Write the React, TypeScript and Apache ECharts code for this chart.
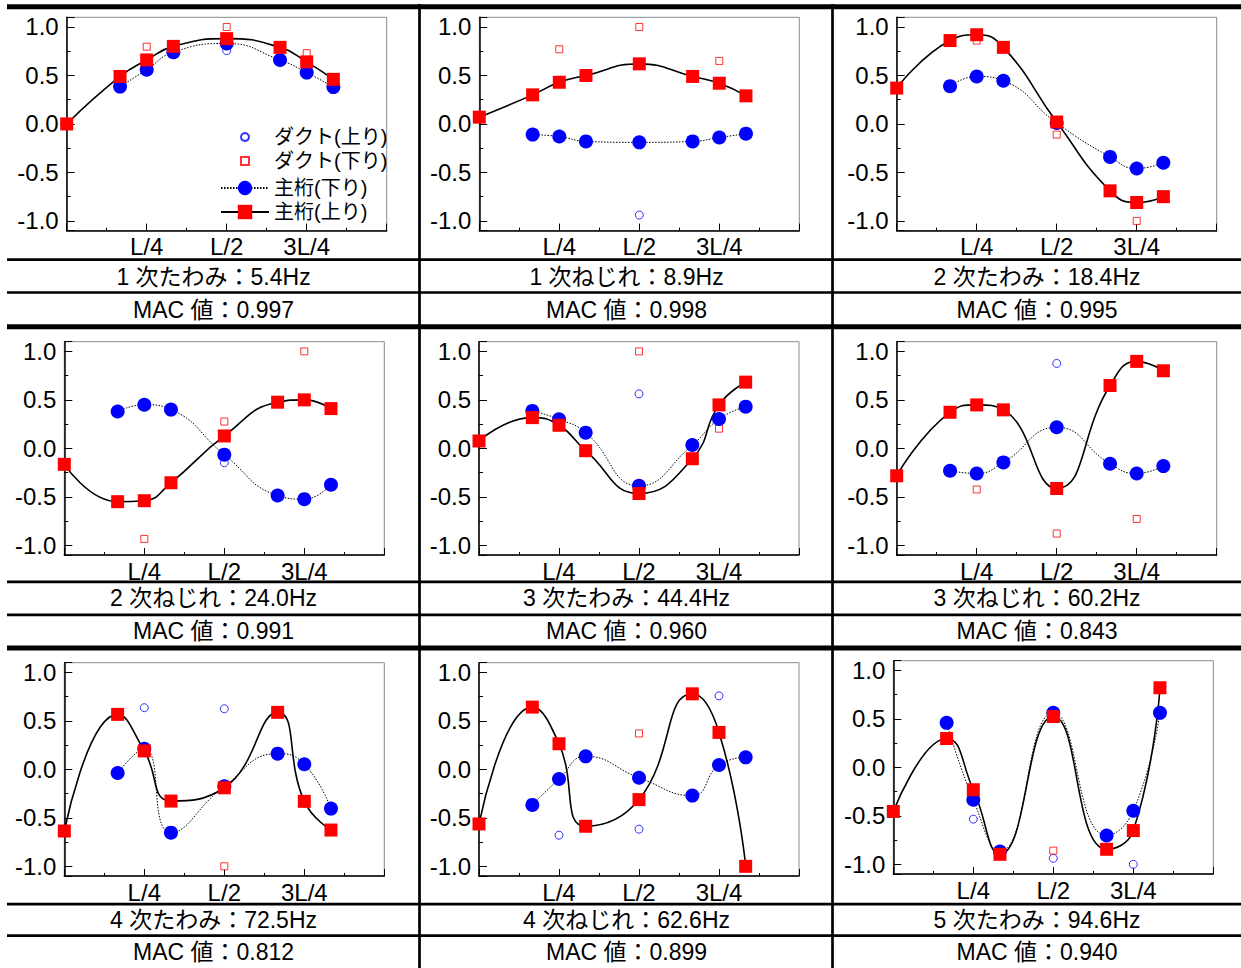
import React, { useEffect, useRef } from "react";
import * as echarts from "echarts";

// ---------- data ----------
// positions along the span, in units of L/24
const girderUpPos = [0, 4, 6, 8, 12, 16, 18, 20];
const girderDownPos = [4, 6, 8, 12, 16, 18, 20];
const ductPos = [6, 12, 18];
const xTickValues = [6, 12, 18];
const xTickLabels = ["L/4", "L/2", "3L/4"];

const modeNames = [
  "1 次たわみ", "1 次ねじれ", "2 次たわみ",
  "2 次ねじれ", "3 次たわみ", "3 次ねじれ",
  "4 次たわみ", "4 次ねじれ", "5 次たわみ",
];
const freqsHz = [5.4, 8.9, 18.4, 24.0, 44.4, 60.2, 72.5, 62.6, 94.6];
const macValues = [0.997, 0.998, 0.995, 0.991, 0.960, 0.843, 0.812, 0.899, 0.940];

// 主桁(上り) : red filled squares, solid line
const girderUp = [
  [0.0, 0.49, 0.66, 0.8, 0.88, 0.79, 0.64, 0.46],
  [0.07, 0.3, 0.43, 0.5, 0.62, 0.49, 0.42, 0.29],
  [0.37, 0.86, 0.92, 0.79, 0.02, -0.69, -0.81, -0.75],
  [-0.165, -0.55, -0.54, -0.355, 0.128, 0.476, 0.5, 0.41],
  [0.076, 0.317, 0.238, -0.024, -0.466, -0.107, 0.448, 0.683],
  [-0.283, 0.372, 0.448, 0.397, -0.414, 0.648, 0.897, 0.8],
  [-0.636, 0.567, 0.19, -0.327, -0.19, 0.588, -0.33, -0.626],
  [-0.563, 0.642, 0.264, -0.587, -0.312, 0.779, 0.381, -1.0],
  [-0.455, 0.297, -0.231, -0.897, 0.524, -0.845, -0.652, 0.821],
];
// 主桁(下り) : blue filled circles, dotted line
const girderDown = [
  [0.385, 0.56, 0.74, 0.83, 0.66, 0.53, 0.38],
  [-0.11, -0.13, -0.18, -0.19, -0.18, -0.14, -0.1],
  [0.39, 0.49, 0.445, 0.01, -0.34, -0.46, -0.4],
  [0.38, 0.45, 0.4, -0.065, -0.486, -0.524, -0.376],
  [0.386, 0.3, 0.162, -0.386, 0.034, 0.303, 0.43],
  [-0.231, -0.259, -0.145, 0.217, -0.159, -0.259, -0.183],
  [-0.038, 0.213, -0.653, -0.175, 0.162, 0.052, -0.405],
  [-0.367, -0.1, 0.134, -0.086, -0.271, 0.045, 0.124],
  [0.459, -0.334, -0.869, 0.562, -0.703, -0.448, 0.562],
];
// ダクト(上り) : hollow blue circles
const ductUp = [
  [null, 0.756, null],
  [null, -0.94, null],
  [null, 0.0, null],
  [null, -0.148, null],
  [null, 0.562, null],
  [null, 0.876, null],
  [0.636, 0.625, -0.347],
  [-0.679, -0.617, 0.758],
  [-0.534, -0.938, -1.0],
];
// ダクト(下り) : hollow red squares
const ductDown = [
  [0.797, 1.0, 0.73],
  [0.77, 1.0, 0.65],
  [0.86, -0.11, -1.0],
  [-0.934, 0.276, 1.0],
  [0.293, 1.0, 0.203],
  [-0.424, -0.879, -0.728],
  [null, -1.0, null],
  [null, 0.37, null],
  [null, -0.859, null],
];

// ---------- layout ----------
const W = 1241;
const H = 968;
const FONT = "'Liberation Sans', Arial, 'Noto Sans CJK JP', sans-serif";
const gridLeft = [66.7, 479.3, 896.7, 64.3, 479, 896.7, 64.3, 479, 893.3];
const gridTop = [17.3, 17.3, 17.3, 341.7, 341.7, 341.7, 662.7, 662.7, 660.7];
const gridW = 320;
const gridH = 213.3;
const colCenter = [213.5, 626.5, 1037];
const captionY = [276.5, 598.3, 920];
const macY = [309.6, 631, 952];
const thickLinesY = [6.7, 326.7, 648];
const thinLinesY = [259.7, 292.5, 581.8, 614.8, 904.2, 935.7];
const vLinesX = [419.5, 832.5];

function buildOption() {
  const grid: any[] = [];
  const xAxis: any[] = [];
  const yAxis: any[] = [];
  const series: any[] = [];
  const graphic: any[] = [];

  for (let i = 0; i < 9; i++) {
    grid.push({
      left: gridLeft[i],
      top: gridTop[i],
      width: gridW,
      height: gridH,
      show: true,
      borderColor: "#8a8a8a",
      borderWidth: 1,
      backgroundColor: "transparent",
    });
    xAxis.push({
      gridIndex: i,
      type: "value",
      min: 0,
      max: 24,
      interval: 6,
      axisLine: { show: true, onZero: false, lineStyle: { color: "#000", width: 1.5 } },
      axisTick: { show: true, inside: true, length: 7, lineStyle: { color: "#000", width: 1 } },
      minorTick: { show: true, splitNumber: 2, length: 3, lineStyle: { color: "#000", width: 1 } },
      splitLine: { show: false },
      axisLabel: {
        fontSize: 24,
        fontFamily: FONT,
        color: "#000",
        margin: 4,
        formatter: (v: number) => {
          const k = xTickValues.indexOf(v);
          return k >= 0 ? xTickLabels[k] : "";
        },
      },
    });
    yAxis.push({
      gridIndex: i,
      type: "value",
      min: -1.1,
      max: 1.1,
      splitNumber: 4,
      axisLine: { show: true, onZero: false, lineStyle: { color: "#000", width: 1.5 } },
      axisTick: { show: true, inside: true, length: 8, lineStyle: { color: "#000", width: 1 } },
      minorTick: { show: true, splitNumber: 2, length: 4, lineStyle: { color: "#000", width: 1 } },
      splitLine: { show: false },
      axisLabel: {
        fontSize: 24,
        fontFamily: FONT,
        color: "#000",
        margin: 8,
        showMinLabel: false,
        showMaxLabel: false,
        formatter: (v: number) => (Math.abs(v) > 1.05 ? "" : v.toFixed(1)),
      },
    });

    series.push({
      type: "line",
      name: "主桁(下り)",
      xAxisIndex: i,
      yAxisIndex: i,
      data: girderDownPos.map((x, j) => [x, girderDown[i][j]]),
      smooth: 0.5,
      symbol: "circle",
      symbolSize: 14,
      itemStyle: { color: "#0000ff" },
      lineStyle: { color: "#000", width: 1, type: [1.5, 1.5] },
      clip: true,
    });
    series.push({
      type: "line",
      name: "主桁(上り)",
      xAxisIndex: i,
      yAxisIndex: i,
      data: girderUpPos.map((x, j) => [x, girderUp[i][j]]),
      smooth: 0.5,
      symbol: "rect",
      symbolSize: 13,
      itemStyle: { color: "#ff0000" },
      lineStyle: { color: "#000", width: 1.6 },
      clip: true,
    });
    series.push({
      type: "scatter",
      name: "ダクト(上り)",
      xAxisIndex: i,
      yAxisIndex: i,
      data: ductPos.map((x, j) => [x, ductUp[i][j]]),
      symbol: "circle",
      symbolSize: 8,
      itemStyle: { color: "#ffffff", borderColor: "#0000ff", borderWidth: 1 },
    });
    series.push({
      type: "scatter",
      name: "ダクト(下り)",
      xAxisIndex: i,
      yAxisIndex: i,
      data: ductPos.map((x, j) => [x, ductDown[i][j]]),
      symbol: "rect",
      symbolSize: 7,
      itemStyle: { color: "#ffffff", borderColor: "#ff0000", borderWidth: 1 },
    });

    const col = i % 3;
    const row = Math.floor(i / 3);
    graphic.push({
      type: "text",
      x: colCenter[col],
      y: captionY[row],
      style: {
        text: `${modeNames[i]}：${freqsHz[i].toFixed(1)}Hz`,
        fontSize: 23,
        fontFamily: FONT,
        fill: "#000",
        align: "center",
        verticalAlign: "middle",
      },
    });
    graphic.push({
      type: "text",
      x: colCenter[col],
      y: macY[row],
      style: {
        text: `MAC 値：${macValues[i].toFixed(3)}`,
        fontSize: 23,
        fontFamily: FONT,
        fill: "#000",
        align: "center",
        verticalAlign: "middle",
      },
    });
  }

  thickLinesY.forEach((y) =>
    graphic.push({
      type: "line",
      shape: { x1: 7, y1: y, x2: W, y2: y },
      style: { stroke: "#000", lineWidth: 5 },
    })
  );
  thinLinesY.forEach((y) =>
    graphic.push({
      type: "line",
      shape: { x1: 7, y1: y, x2: W, y2: y },
      style: { stroke: "#000", lineWidth: 2.7 },
    })
  );
  vLinesX.forEach((x) =>
    graphic.push({
      type: "line",
      shape: { x1: x, y1: 4, x2: x, y2: H },
      style: { stroke: "#000", lineWidth: 2.7 },
    })
  );

  const legendText = { fontSize: 20, fontFamily: FONT, color: "#000" };
  const legend = [
    {
      data: [
        { name: "ダクト(上り)", icon: "circle" },
        { name: "ダクト(下り)", icon: "path://M0 0H10V10H0Z" },
      ],
      orient: "vertical",
      left: 240,
      top: 127,
      itemWidth: 48,
      itemHeight: 8,
      itemGap: 4,
      padding: 0,
      symbolKeepAspect: true,
      textStyle: legendText,
    },
    {
      data: ["主桁(下り)", "主桁(上り)"],
      orient: "vertical",
      left: 220,
      top: 178,
      itemWidth: 48,
      itemHeight: 18,
      itemGap: 4,
      padding: 0,
      textStyle: legendText,
    },
  ];

  return {
    animation: false,
    backgroundColor: "#ffffff",
    grid,
    xAxis,
    yAxis,
    legend,
    series,
    graphic,
  };
}

export default function App() {
  const ref = useRef<HTMLDivElement>(null);
  useEffect(() => {
    if (!ref.current) return;
    const chart = echarts.init(ref.current, undefined, { renderer: "svg" });
    chart.setOption(buildOption() as any);
    return () => chart.dispose();
  }, []);
  return (
    <div
      ref={ref}
      style={{ position: "absolute", left: 0, top: 0, width: W, height: H }}
    />
  );
}
